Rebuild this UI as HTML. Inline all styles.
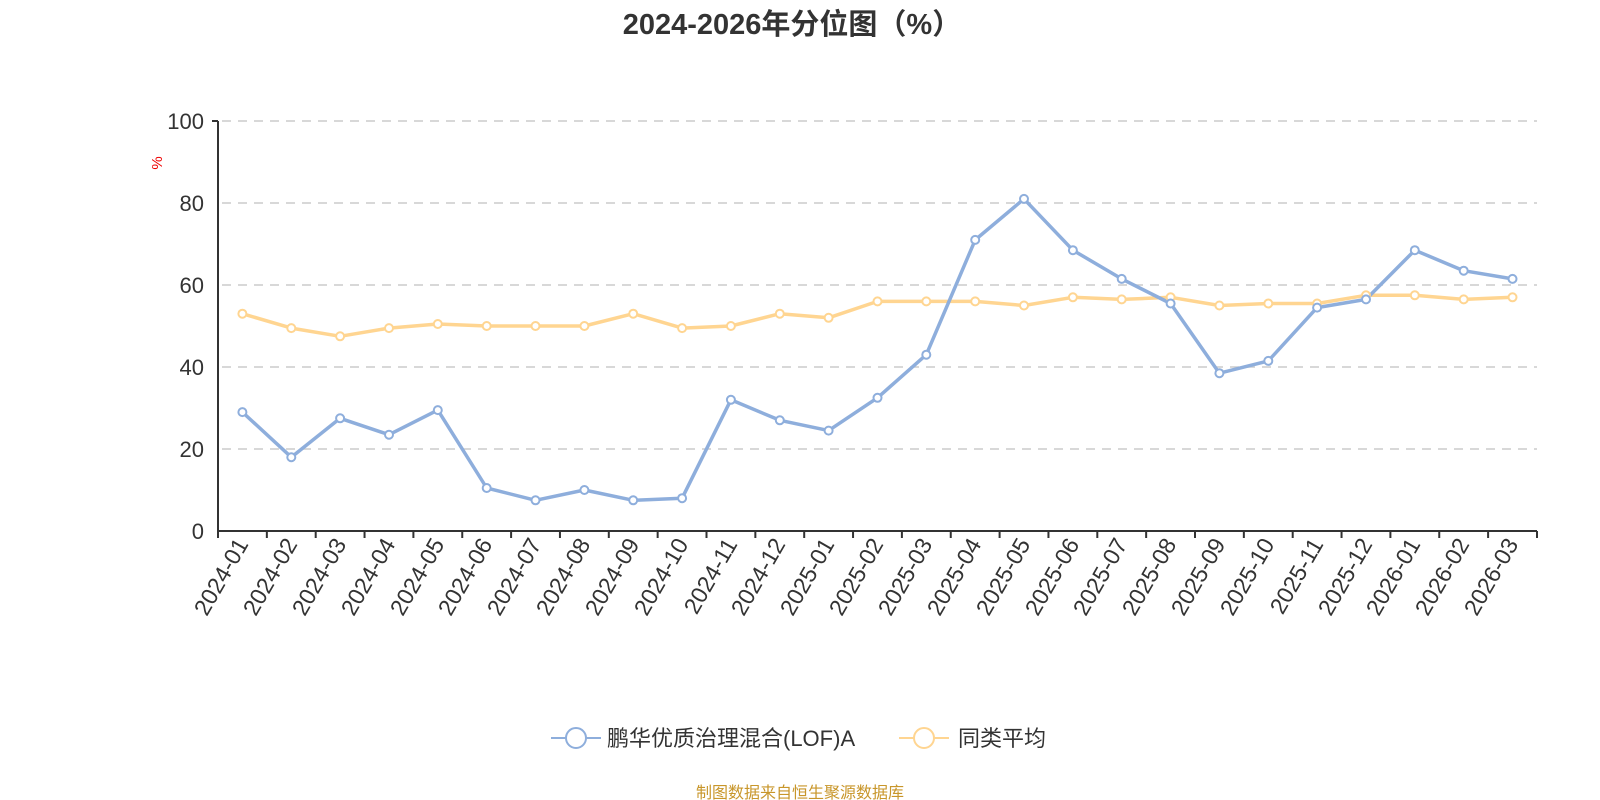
<!DOCTYPE html>
<html><head><meta charset="utf-8"><style>
html,body{margin:0;padding:0;background:#fff;}
svg{display:block;font-family:"Liberation Sans","Noto Sans CJK SC",sans-serif;}
</style></head><body>
<svg width="1600" height="800" viewBox="0 0 1600 800" xmlns="http://www.w3.org/2000/svg">
<text x="792" y="34" text-anchor="middle" font-size="29" font-weight="bold" fill="#333">2024-2026年分位图（%）</text>
<g stroke="#ccc" stroke-width="1.5" stroke-dasharray="9,7">
<line x1="222" y1="121" x2="1537" y2="121"/>
<line x1="222" y1="203" x2="1537" y2="203"/>
<line x1="222" y1="285" x2="1537" y2="285"/>
<line x1="222" y1="367" x2="1537" y2="367"/>
<line x1="222" y1="449" x2="1537" y2="449"/>
</g>
<g fill="#333" font-size="22" text-anchor="end">
<text x="204" y="129">100</text><text x="204" y="211">80</text><text x="204" y="293">60</text><text x="204" y="375">40</text><text x="204" y="457">20</text><text x="204" y="539">0</text>
</g>
<text x="0" y="0" transform="translate(162,163) rotate(-90)" text-anchor="middle" font-size="15" fill="#e00">%</text>
<g stroke="#333" stroke-width="2">
<line x1="218" y1="121" x2="218" y2="531"/><line x1="212" y1="121" x2="218" y2="121"/>
<line x1="218" y1="531" x2="1537" y2="531"/>
<path d="M218 531v7M266.85 531v7M315.7 531v7M364.55 531v7M413.4 531v7M462.25 531v7M511.1 531v7M559.95 531v7M608.8 531v7M657.65 531v7M706.5 531v7M755.35 531v7M804.2 531v7M853.05 531v7M901.9 531v7M950.75 531v7M999.6 531v7M1048.45 531v7M1097.3 531v7M1146.15 531v7M1195 531v7M1243.85 531v7M1292.7 531v7M1341.55 531v7M1390.4 531v7M1439.25 531v7M1488.1 531v7M1537 531v7"/>
</g>
<g fill="#333" font-size="23" text-anchor="end">
<text transform="translate(249,544) rotate(-60)">2024-01</text>
<text transform="translate(298,544) rotate(-60)">2024-02</text>
<text transform="translate(347,544) rotate(-60)">2024-03</text>
<text transform="translate(396,544) rotate(-60)">2024-04</text>
<text transform="translate(445,544) rotate(-60)">2024-05</text>
<text transform="translate(493,544) rotate(-60)">2024-06</text>
<text transform="translate(542,544) rotate(-60)">2024-07</text>
<text transform="translate(591,544) rotate(-60)">2024-08</text>
<text transform="translate(640,544) rotate(-60)">2024-09</text>
<text transform="translate(689,544) rotate(-60)">2024-10</text>
<text transform="translate(738,544) rotate(-60)">2024-11</text>
<text transform="translate(786,544) rotate(-60)">2024-12</text>
<text transform="translate(835,544) rotate(-60)">2025-01</text>
<text transform="translate(884,544) rotate(-60)">2025-02</text>
<text transform="translate(933,544) rotate(-60)">2025-03</text>
<text transform="translate(982,544) rotate(-60)">2025-04</text>
<text transform="translate(1031,544) rotate(-60)">2025-05</text>
<text transform="translate(1080,544) rotate(-60)">2025-06</text>
<text transform="translate(1128,544) rotate(-60)">2025-07</text>
<text transform="translate(1177,544) rotate(-60)">2025-08</text>
<text transform="translate(1226,544) rotate(-60)">2025-09</text>
<text transform="translate(1275,544) rotate(-60)">2025-10</text>
<text transform="translate(1324,544) rotate(-60)">2025-11</text>
<text transform="translate(1373,544) rotate(-60)">2025-12</text>
<text transform="translate(1421,544) rotate(-60)">2026-01</text>
<text transform="translate(1470,544) rotate(-60)">2026-02</text>
<text transform="translate(1519,544) rotate(-60)">2026-03</text>
</g>
<polyline fill="none" stroke="#ffd591" stroke-width="3.5" stroke-linejoin="round" points="242.4,313.7 291.3,328.1 340.1,336.3 389,328.1 437.8,324 486.7,326 535.5,326 584.4,326 633.2,313.7 682.1,328.1 730.9,326 779.8,313.7 828.6,317.8 877.5,301.4 926.3,301.4 975.2,301.4 1024,305.5 1072.9,297.3 1121.7,299.4 1170.6,297.3 1219.4,305.5 1268.3,303.5 1317.1,303.5 1366,295.3 1414.8,295.3 1463.7,299.4 1512.5,297.3"/>
<polyline fill="none" stroke="#8eaedc" stroke-width="3.5" stroke-linejoin="round" points="242.4,412.1 291.3,457.2 340.1,418.3 389,434.7 437.8,410.1 486.7,488 535.5,500.3 584.4,490 633.2,500.3 682.1,498.2 730.9,399.8 779.8,420.3 828.6,430.6 877.5,397.8 926.3,354.7 975.2,239.9 1024,198.9 1072.9,250.2 1121.7,278.9 1170.6,303.5 1219.4,373.2 1268.3,360.9 1317.1,307.6 1366,299.4 1414.8,250.2 1463.7,270.7 1512.5,278.9"/>
<g fill="#fff" stroke="#ffd591" stroke-width="2">
<circle cx="242.4" cy="313.7" r="4"/><circle cx="291.3" cy="328.1" r="4"/><circle cx="340.1" cy="336.3" r="4"/><circle cx="389" cy="328.1" r="4"/><circle cx="437.8" cy="324" r="4"/><circle cx="486.7" cy="326" r="4"/><circle cx="535.5" cy="326" r="4"/><circle cx="584.4" cy="326" r="4"/><circle cx="633.2" cy="313.7" r="4"/><circle cx="682.1" cy="328.1" r="4"/><circle cx="730.9" cy="326" r="4"/><circle cx="779.8" cy="313.7" r="4"/><circle cx="828.6" cy="317.8" r="4"/><circle cx="877.5" cy="301.4" r="4"/><circle cx="926.3" cy="301.4" r="4"/><circle cx="975.2" cy="301.4" r="4"/><circle cx="1024" cy="305.5" r="4"/><circle cx="1072.9" cy="297.3" r="4"/><circle cx="1121.7" cy="299.4" r="4"/><circle cx="1170.6" cy="297.3" r="4"/><circle cx="1219.4" cy="305.5" r="4"/><circle cx="1268.3" cy="303.5" r="4"/><circle cx="1317.1" cy="303.5" r="4"/><circle cx="1366" cy="295.3" r="4"/><circle cx="1414.8" cy="295.3" r="4"/><circle cx="1463.7" cy="299.4" r="4"/><circle cx="1512.5" cy="297.3" r="4"/>
</g>
<g fill="#fff" stroke="#8eaedc" stroke-width="2">
<circle cx="242.4" cy="412.1" r="4"/><circle cx="291.3" cy="457.2" r="4"/><circle cx="340.1" cy="418.3" r="4"/><circle cx="389" cy="434.7" r="4"/><circle cx="437.8" cy="410.1" r="4"/><circle cx="486.7" cy="488" r="4"/><circle cx="535.5" cy="500.3" r="4"/><circle cx="584.4" cy="490" r="4"/><circle cx="633.2" cy="500.3" r="4"/><circle cx="682.1" cy="498.2" r="4"/><circle cx="730.9" cy="399.8" r="4"/><circle cx="779.8" cy="420.3" r="4"/><circle cx="828.6" cy="430.6" r="4"/><circle cx="877.5" cy="397.8" r="4"/><circle cx="926.3" cy="354.7" r="4"/><circle cx="975.2" cy="239.9" r="4"/><circle cx="1024" cy="198.9" r="4"/><circle cx="1072.9" cy="250.2" r="4"/><circle cx="1121.7" cy="278.9" r="4"/><circle cx="1170.6" cy="303.5" r="4"/><circle cx="1219.4" cy="373.2" r="4"/><circle cx="1268.3" cy="360.9" r="4"/><circle cx="1317.1" cy="307.6" r="4"/><circle cx="1366" cy="299.4" r="4"/><circle cx="1414.8" cy="250.2" r="4"/><circle cx="1463.7" cy="270.7" r="4"/><circle cx="1512.5" cy="278.9" r="4"/>
</g>
<g stroke-width="2" fill="#fff">
<line x1="551" y1="738" x2="601" y2="738" stroke="#8eaedc"/><circle cx="576" cy="738" r="10" stroke="#8eaedc"/>
<line x1="899" y1="738" x2="949" y2="738" stroke="#ffd591"/><circle cx="924" cy="738" r="10" stroke="#ffd591"/>
</g>
<g fill="#333" font-size="22">
<text x="607" y="746">鹏华优质治理混合(LOF)A</text>
<text x="958" y="746">同类平均</text>
</g>
<text x="800" y="798" text-anchor="middle" font-size="16" fill="#c8962a">制图数据来自恒生聚源数据库</text>
</svg>
</body></html>
